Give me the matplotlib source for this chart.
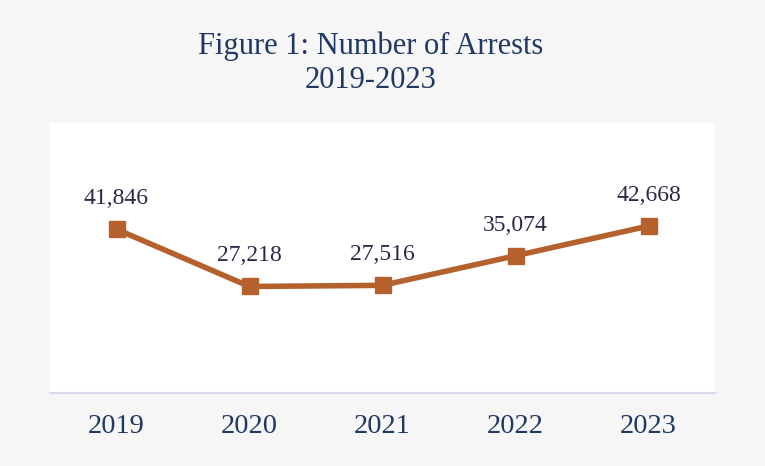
import matplotlib
matplotlib.use('Agg')
import matplotlib.pyplot as plt

# data
years = ['2019', '2020', '2021', '2022', '2023']
arrests = [41846, 27218, 27516, 35074, 42668]

line_color = '#B5612E'
navy = '#1F3864'
label_color = '#2A2A48'

plt.rcParams['font.family'] = ['Liberation Serif', 'DejaVu Serif']

fig = plt.figure(figsize=(7.65, 4.66), dpi=100, facecolor='#F6F6F6')
ax = fig.add_axes([50 / 765, 73 / 466, 665 / 765, 270 / 466])
ax.set_facecolor('white')

x = range(len(years))
ax.plot(x, arrests, color=line_color, linewidth=4, marker='s',
        markersize=12, solid_capstyle='butt')

for xi, v in zip(x, arrests):
    ax.annotate(f'{v:,}', (xi, v), xytext=(0, 18), textcoords='offset points',
                ha='center', va='baseline', fontsize=17, color=label_color)

ax.set_xlim(-0.5, len(years) - 0.5)
ax.set_ylim(0, 69000)
ax.set_xticks(list(x))
ax.set_xticklabels(years)
ax.set_yticks([])
ax.tick_params(axis='x', length=0, pad=15, labelsize=20.5, labelcolor=navy)

for side in ['top', 'left', 'right']:
    ax.spines[side].set_visible(False)
ax.spines['bottom'].set_color('#D9D9EA')
ax.spines['bottom'].set_linewidth(1.5)

fig.text(371 / 765, 1 - 54 / 466, 'Figure 1: Number of Arrests', ha='center',
         va='baseline', fontsize=22, color=navy)
fig.text(371 / 765, 1 - 88 / 466, '2019-2023', ha='center', va='baseline',
         fontsize=22, color=navy)

fig.savefig('out.png', dpi=100, facecolor=fig.get_facecolor())
